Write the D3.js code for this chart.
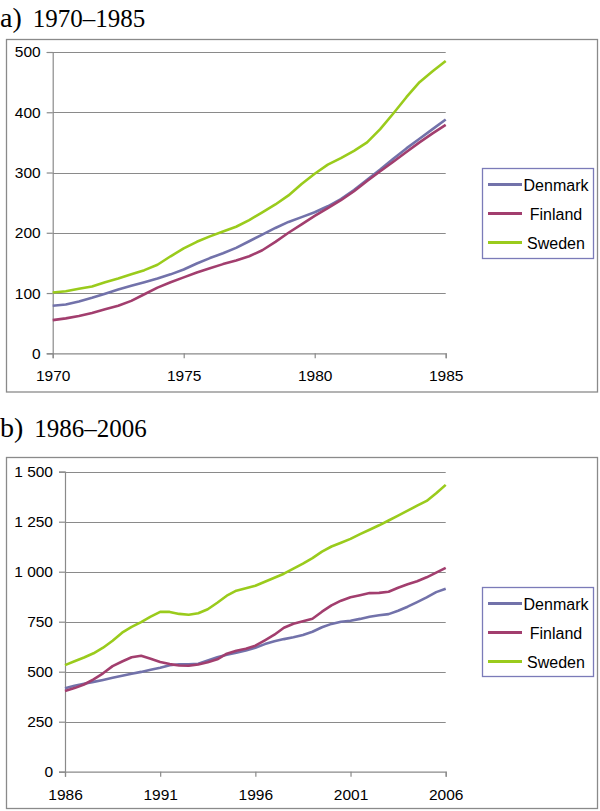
<!DOCTYPE html>
<html>
<head>
<meta charset="utf-8">
<script src="https://cdn.jsdelivr.net/npm/d3@7"></script>
<style>
  html, body { margin: 0; padding: 0; background: #fff; }
  svg { display: block; }
</style>
</head>
<body>
<svg id="chart" width="600" height="811"></svg>
<script>
// ---------- DATA ----------
const seriesNames = ["Denmark", "Finland", "Sweden"];

// Panel a) 1970–1985 (half-year steps)
const yearsA = [1970,1970.5,1971,1971.5,1972,1972.5,1973,1973.5,1974,1974.5,1975,1975.5,1976,1976.5,1977,1977.5,1978,1978.5,1979,1979.5,1980,1980.5,1981,1981.5,1982,1982.5,1983,1983.5,1984,1984.5,1985];
const denmarkA = [79,81,86,92,99,106,112,118,124,131,139,149,158,166,175,186,197,208,218,226,234,244,256,271,288,305,323,340,356,372,388];
const finlandA = [55,58,62,67,73,79,87,98,109,118,126,134,141,148,154,161,171,185,200,214,228,241,254,269,286,302,318,334,350,365,379];
const swedenA  = [101,103,107,111,118,124,131,138,147,161,174,185,194,202,210,221,234,247,262,281,298,313,324,336,350,372,398,425,450,468,485];
const yTicksA = [0,100,200,300,400,500];
const xTicksA = [1970,1975,1980,1985];

// Panel b) 1986–2006 (half-year steps)
const yearsB = [1986,1986.5,1987,1987.5,1988,1988.5,1989,1989.5,1990,1990.5,1991,1991.5,1992,1992.5,1993,1993.5,1994,1994.5,1995,1995.5,1996,1996.5,1997,1997.5,1998,1998.5,1999,1999.5,2000,2000.5,2001,2001.5,2002,2002.5,2003,2003.5,2004,2004.5,2005,2005.5,2006];
const denmarkB = [417,430,440,449,459,470,480,490,499,510,520,532,537,537,540,556,572,585,595,606,620,638,652,663,672,684,700,722,739,750,755,764,775,782,788,805,825,848,872,898,915];
const finlandB = [404,418,436,462,492,528,551,572,580,565,549,538,531,530,536,547,562,590,605,615,630,657,685,720,740,752,765,800,832,855,872,882,893,894,900,920,937,952,972,995,1019];
const swedenB  = [533,552,571,592,620,655,695,724,748,775,799,799,789,785,792,812,845,880,905,917,930,950,970,990,1015,1040,1068,1100,1126,1145,1164,1188,1210,1232,1256,1280,1305,1330,1354,1392,1434];
const yTicksB = [0,250,500,750,1000,1250,1500];
const xTicksB = [1986,1991,1996,2001,2006];

const colors = { Denmark: "#7272aa", Finland: "#a23e6e", Sweden: "#9acb1c" };

// ---------- DRAW ----------
const svg = d3.select("#chart");
const gray = "#8a8a8a";
const fmt = d3.formatLocale({ decimal: ",", thousands: "\u00a0", grouping: [3], currency: ["", ""] }).format(",d");

function panel(cfg) {
  const g = svg.append("g");
  // title
  const t = g.append("text").attr("x", 0).attr("y", cfg.titleY)
    .attr("font-family", "Liberation Serif, Times New Roman, serif").attr("fill", "#000");
  t.append("tspan").attr("font-size", 28).text(cfg.letter);
  t.append("tspan").attr("font-size", 25).attr("dx", 11).text(cfg.range);

  // frame
  g.append("rect").attr("x", cfg.frame[0] + 0.5).attr("y", cfg.frame[1] + 0.5)
    .attr("width", cfg.frame[2] - cfg.frame[0]).attr("height", cfg.frame[3] - cfg.frame[1])
    .attr("fill", "none").attr("stroke", gray).attr("stroke-width", 1.3);

  const x = d3.scaleLinear().domain(cfg.xDomain).range(cfg.xRange);
  const y = d3.scaleLinear().domain(cfg.yDomain).range(cfg.yRange);

  // gridlines
  g.append("g").selectAll("line").data(cfg.yTicks.filter(d => d !== 0)).join("line")
    .attr("x1", cfg.xRange[0]).attr("x2", cfg.xRange[1])
    .attr("y1", d => Math.round(y(d)) + 0.5).attr("y2", d => Math.round(y(d)) + 0.5)
    .attr("stroke", gray).attr("stroke-width", 1.2);

  // y axis
  const ya = g.append("g").attr("transform", `translate(${cfg.xRange[0]},0)`)
    .call(d3.axisLeft(y).tickValues(cfg.yTicks).tickSize(6).tickPadding(6).tickFormat(fmt));
  ya.select(".domain").attr("stroke", gray).attr("stroke-width", 1.2);
  ya.selectAll(".tick line").attr("stroke", gray).attr("stroke-width", 1.2);
  ya.selectAll(".tick text").attr("font-family", "Liberation Sans, Arial, sans-serif")
    .attr("font-size", 15.5).attr("fill", "#000");

  // x axis
  const xa = g.append("g").attr("transform", `translate(0,${cfg.yRange[0]})`)
    .call(d3.axisBottom(x).tickValues(cfg.xTicks).tickSize(5).tickPadding(12).tickFormat(d3.format("d")));
  xa.select(".domain").attr("stroke", gray).attr("stroke-width", 1.2);
  xa.selectAll(".tick line").attr("stroke", gray).attr("stroke-width", 1.2);
  xa.selectAll(".tick text").attr("font-family", "Liberation Sans, Arial, sans-serif")
    .attr("font-size", 15.5).attr("fill", "#000");

  // lines
  const line = d3.line().x(d => x(d[0])).y(d => y(d[1]));
  cfg.series.forEach(s => {
    g.append("path").datum(cfg.years.map((yr, i) => [yr, s.values[i]]))
      .attr("d", line).attr("fill", "none").attr("stroke", colors[s.name])
      .attr("stroke-width", 2.6).attr("stroke-linejoin", "round");
  });

  // legend
  const L = cfg.legend;
  g.append("rect").attr("x", L.x0 + 0.5).attr("y", L.y0 + 0.5)
    .attr("width", L.x1 - L.x0).attr("height", L.y1 - L.y0)
    .attr("fill", "#fff").attr("stroke", "#7b7bb8").attr("stroke-width", 1.3);
  seriesNames.forEach((name, i) => {
    const ry = L.rows[i];
    g.append("line").attr("x1", 488).attr("x2", 522).attr("y1", ry).attr("y2", ry)
      .attr("stroke", colors[name]).attr("stroke-width", 3);
    g.append("text").attr("x", 556).attr("y", ry + 6).attr("text-anchor", "middle")
      .attr("font-family", "Liberation Sans, Arial, sans-serif").attr("font-size", 16)
      .attr("fill", "#000").text(name);
  });
}

panel({
  letter: "a)", range: "1970\u20131985", titleY: 27,
  frame: [6, 39, 597, 391.5],
  xDomain: [1970, 1985], xRange: [52.7, 445.7],
  yDomain: [0, 500], yRange: [353.3, 52],
  xTicks: xTicksA, yTicks: yTicksA, years: yearsA,
  series: [
    { name: "Denmark", values: denmarkA },
    { name: "Finland", values: finlandA },
    { name: "Sweden", values: swedenA }
  ],
  legend: { x0: 482, x1: 593, y0: 168, y1: 258, rows: [184.5, 213.5, 242.5] }
});

panel({
  letter: "b)", range: "1986\u20132006", titleY: 437,
  frame: [6, 457, 597, 808],
  xDomain: [1986, 2006], xRange: [65, 445.7],
  yDomain: [0, 1500], yRange: [771.7, 471.7],
  xTicks: xTicksB, yTicks: yTicksB, years: yearsB,
  series: [
    { name: "Denmark", values: denmarkB },
    { name: "Finland", values: finlandB },
    { name: "Sweden", values: swedenB }
  ],
  legend: { x0: 482, x1: 593, y0: 587, y1: 676, rows: [603.5, 632.5, 661.5] }
});
</script>
</body>
</html>
